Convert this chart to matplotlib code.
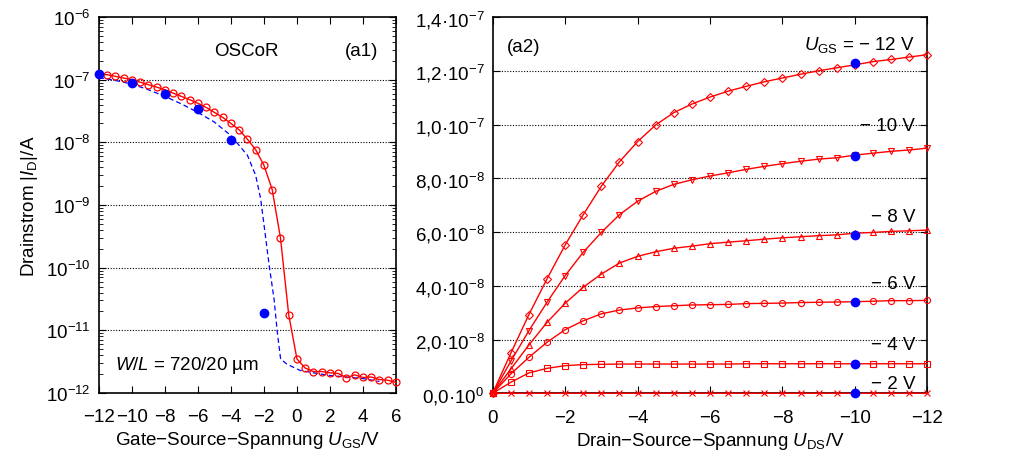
import numpy as np
import matplotlib
matplotlib.use("Agg")
import matplotlib.pyplot as plt
from matplotlib.ticker import LogLocator, NullFormatter, FixedLocator

plt.rcParams['font.family'] = ['Liberation Sans', 'DejaVu Sans']
plt.rcParams['mathtext.fontset'] = 'custom'
plt.rcParams['mathtext.rm'] = 'Liberation Sans'
plt.rcParams['mathtext.it'] = 'Liberation Sans:italic'
plt.rcParams['mathtext.bf'] = 'Liberation Sans:bold'
plt.rcParams['font.size'] = 13.5

# (a1) transfer curve, measured (red) and simulated (blue dashed)
ugs_meas = np.arange(-12, 6.01, 0.5)
id_meas = [1.22e-7, 1.20e-7, 1.13e-7, 1.06e-7, 1.00e-7, 9.1e-8, 8.3e-8, 7.6e-8,
           6.9e-8, 6.1e-8, 5.4e-8, 4.8e-8, 4.2e-8, 3.6e-8, 3.0e-8, 2.5e-8,
           2.0e-8, 1.58e-8, 1.12e-8, 7.6e-9, 4.3e-9, 1.76e-9, 3.0e-10, 1.78e-11,
           3.5e-12, 2.5e-12, 2.2e-12, 2.2e-12, 2.1e-12, 2.05e-12, 1.75e-12, 1.95e-12,
           1.77e-12, 1.8e-12, 1.64e-12, 1.6e-12, 1.48e-12]
ugs_sim = [-12, -11, -10, -9, -8, -7, -6, -5, -4, -3, -2.5, -2.2, -1.94, -1.68,
           -1.39, -1.19, -0.99, -0.62, 0.18, 1, 2, 3, 4, 5]
id_sim = [1.08e-7, 9.7e-8, 8.5e-8, 6.9e-8, 5.4e-8, 4.1e-8, 3.0e-8, 2.1e-8, 1.28e-8,
          6.2e-9, 2.96e-9, 1.26e-9, 3.7e-10, 1.07e-10, 3.2e-11, 9.3e-12, 3.5e-12,
          2.9e-12, 2.3e-12, 2.1e-12, 1.9e-12, 1.8e-12, 1.7e-12, 1.53e-12]

# blue points (model at U_DS = -10 V)
ugs_pts = [-12, -10, -8, -6, -4, -2]
id_pts = [1.23e-7, 8.85e-8, 5.9e-8, 3.4e-8, 1.1e-8, 1.9e-11]
uds_pts = -10

# (a2) output curves, current in nA
uds = np.arange(0, -12.01, -0.5)
id_out = {
    -12: [0, 14.9, 29.3, 42.6, 55.2, 66.5, 77.1, 86.2, 93.7, 99.9, 104.5, 107.7, 110.3,
          112.5, 114.3, 116.0, 117.4, 118.8, 120.1, 121.2, 122.3, 123.5, 124.3, 125.2, 126.1],
    -10: [0, 11.9, 23.3, 33.9, 43.8, 52.5, 59.9, 66.5, 71.5, 75.2, 77.8, 79.5, 80.9,
          82.1, 83.4, 84.5, 85.5, 86.4, 87.2, 87.7, 88.7, 89.4, 90.1, 90.6, 91.3],
    -8: [0, 9.0, 18.0, 26.4, 33.5, 39.5, 44.4, 48.5, 51.0, 52.7, 54.0, 54.8, 55.7,
         56.3, 56.8, 57.4, 57.9, 58.3, 58.7, 59.0, 59.6, 59.9, 60.3, 60.5, 60.8],
    -6: [0, 7.2, 13.4, 19.0, 23.7, 27.0, 29.6, 31.0, 31.8, 32.3, 32.6, 32.9, 33.0,
         33.1, 33.4, 33.5, 33.6, 33.8, 33.9, 34.0, 34.1, 34.3, 34.5, 34.5, 34.6],
    -4: [0, 4.1, 7.6, 9.3, 10.3, 10.7, 10.8, 10.9, 10.9, 10.9, 10.9, 10.9, 10.9,
         10.9, 11.0, 11.0, 11.0, 11.0, 11.0, 11.0, 11.0, 11.0, 11.0, 11.0, 11.0],
    -2: [0, 0.02, 0.02, 0.02, 0.02, 0.02, 0.02, 0.02, 0.02, 0.02, 0.02, 0.02, 0.02,
         0.02, 0.02, 0.02, 0.02, 0.02, 0.02, 0.02, 0.02, 0.02, 0.02, 0.02, 0.02],
}
markers = {-12: 'D', -10: 'v', -8: '^', -6: 'o', -4: 's', -2: 'x'}
curve_labels = {-12: r'$\mathit{U}_{\mathrm{GS}}$ = − 12 V', -10: '− 10 V', -8: '− 8 V',
                -6: '− 6 V', -4: '− 4 V', -2: '− 2 V'}
label_y = {-12: 0.928, -10: 0.712, -8: 0.469, -6: 0.291, -4: 0.131, -2: 0.025}

yticks_r = [0, 2e-8, 4e-8, 6e-8, 8e-8, 1.0e-7, 1.2e-7, 1.4e-7]
yticklabels_r = ['0,0·10$^{0}$', '2,0·10$^{-8}$', '4,0·10$^{-8}$', '6,0·10$^{-8}$',
                 '8,0·10$^{-8}$', '1,0·10$^{-7}$', '1,2·10$^{-7}$', '1,4·10$^{-7}$']

RED = '#ff0000'
BLUE = '#0000ff'

fig = plt.figure(figsize=(10.16, 4.52), dpi=100)
ax1 = fig.add_axes([0.0974, 0.1283, 0.2923, 0.8319])
ax2 = fig.add_axes([0.4849, 0.1276, 0.4278, 0.8319])

# ---- left panel ----
ax1.plot(ugs_sim, id_sim, '--', color=BLUE, lw=0.9, dashes=(4, 2.5))
ax1.plot(ugs_meas, id_meas, '-', color=RED, lw=1.0, marker='o', ms=5,
         mfc='none', mec=RED, mew=0.9, clip_on=False, zorder=3)
ax1.plot(ugs_pts, id_pts, 'o', color=BLUE, ms=6, clip_on=False, zorder=4)
ax1.set_yscale('log')
ax1.set_xlim(-12, 6)
ax1.set_ylim(1e-12, 1e-6)
ax1.set_xticks(np.arange(-12, 7, 2))
ax1.yaxis.set_major_locator(LogLocator(base=10, numticks=10))
ax1.yaxis.set_minor_locator(LogLocator(base=10, subs=np.arange(2, 10), numticks=20))
ax1.yaxis.set_minor_formatter(NullFormatter())
for y in [1e-7, 1e-8, 1e-9, 1e-10, 1e-11]:
    ax1.axhline(y, color='black', lw=0.8, ls=(0, (1, 1.5)), zorder=1)
ax1.set_xlabel(r'Gate−Source−Spannung $\mathit{U}_{\mathrm{GS}}$/V', labelpad=3)
ax1.set_ylabel(r'Drainstrom |$\mathit{I}_{\mathrm{D}}$|/A', labelpad=4)
ax1.text(0.495, 0.91, 'OSCoR', transform=ax1.transAxes, ha='center', va='center')
ax1.text(0.885, 0.91, '(a1)', transform=ax1.transAxes, ha='center', va='center')
ax1.text(0.296, 0.077, r'$\mathit{W}$/$\mathit{L}$ = 720/20 µm', transform=ax1.transAxes,
         ha='center', va='center')

# ---- right panel ----
for ugs, vals in id_out.items():
    ax2.plot(uds, np.array(vals) * 1e-9, '-', color=RED, lw=1.0, marker=markers[ugs],
             ms=4.4 if markers[ugs] != 'D' else 3.6, mfc='none', mec=RED, mew=0.8,
             clip_on=False, zorder=3)
    ax2.text(0.972, label_y[ugs], curve_labels[ugs], transform=ax2.transAxes,
             ha='right', va='center')
ax2.plot([uds_pts] * len(id_pts), id_pts, 'o', color=BLUE, ms=6, clip_on=False, zorder=4)
ax2.set_xlim(0, -12)
ax2.set_ylim(0, 1.4e-7)
ax2.set_xticks(np.arange(0, -13, -2))
ax2.set_xticklabels(['0', '−2', '−4', '−6', '−8', '−10', '−12'])
ax2.yaxis.set_major_locator(FixedLocator(yticks_r))
ax2.set_yticklabels(yticklabels_r)
for y in yticks_r[1:-1]:
    ax2.axhline(y, color='black', lw=0.8, ls=(0, (1, 1.5)), zorder=1)
ax2.set_xlabel(r'Drain−Source−Spannung $\mathit{U}_{\mathrm{DS}}$/V', labelpad=3)
ax2.text(0.072, 0.922, '(a2)', transform=ax2.transAxes, ha='center', va='center')

for ax in (ax1, ax2):
    ax.tick_params(which='both', direction='in', top=True, right=True)
    ax.tick_params(which='major', length=5, width=0.8)
    ax.tick_params(which='minor', length=3, width=0.6)
    ax.tick_params(axis='x', which='major', pad=11)
    ax.tick_params(axis='y', which='major', pad=6)
    for s in ax.spines.values():
        s.set_linewidth(1.2)

fig.savefig('out.png', dpi=100)
